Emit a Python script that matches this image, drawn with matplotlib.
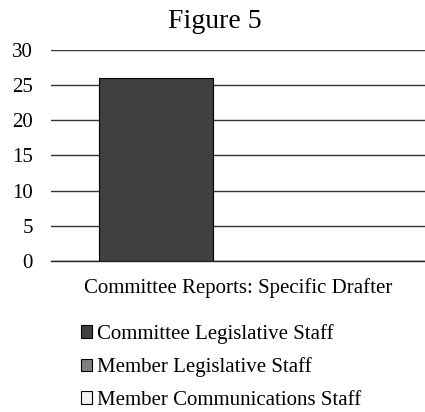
import matplotlib.pyplot as plt
import numpy as np

plt.rcParams['font.family'] = ['Liberation Serif', 'DejaVu Serif']

category = "Committee Reports: Specific Drafter"
series = ["Committee Legislative Staff", "Member Legislative Staff", "Member Communications Staff"]
values = [26, 0, 0]
colors = ['#404040', '#808080', '#f2f2f2']

fig = plt.figure(figsize=(4.25, 4.12), dpi=100)
ax = fig.add_axes([0.12, 0.3665, 0.88, 0.5125])

# bar placement inside the single category group
offsets = [-0.219, 0.086, 0.391]
width = 0.305
handles = []
for off, v, c, name in zip(offsets, values, colors, series):
    b = ax.bar(off, v, width=width, color=c, edgecolor='black', linewidth=0.8, label=name, zorder=3)
    handles.append(b)

ax.set_xlim(-0.5, 0.5)
ax.set_ylim(0, 30)
ax.set_yticks(np.arange(0, 31, 5))
ax.set_xticks([0])
ax.set_xticklabels([category])
ax.tick_params(axis='both', length=0)
ax.tick_params(axis='x', pad=12, labelsize=15)
ax.tick_params(axis='y', pad=13, labelsize=15)
ax.yaxis.grid(True, color='#333333', linewidth=1)
ax.axhline(0, color='#222222', linewidth=1, clip_on=False, zorder=2)
ax.set_axisbelow(True)
for s in ax.spines.values():
    s.set_visible(False)

fig.text(0.506, 0.948, "Figure 5", fontsize=20, ha='center', va='center')

fig.legend(handles=handles, labels=series, loc='upper left', bbox_to_anchor=(0.19, 0.214),
           frameon=False, fontsize=15, handlelength=0.55, handleheight=0.55,
           handletextpad=0.25, labelspacing=0.66, borderaxespad=0, borderpad=0)

fig.savefig('out.png', dpi=100)
